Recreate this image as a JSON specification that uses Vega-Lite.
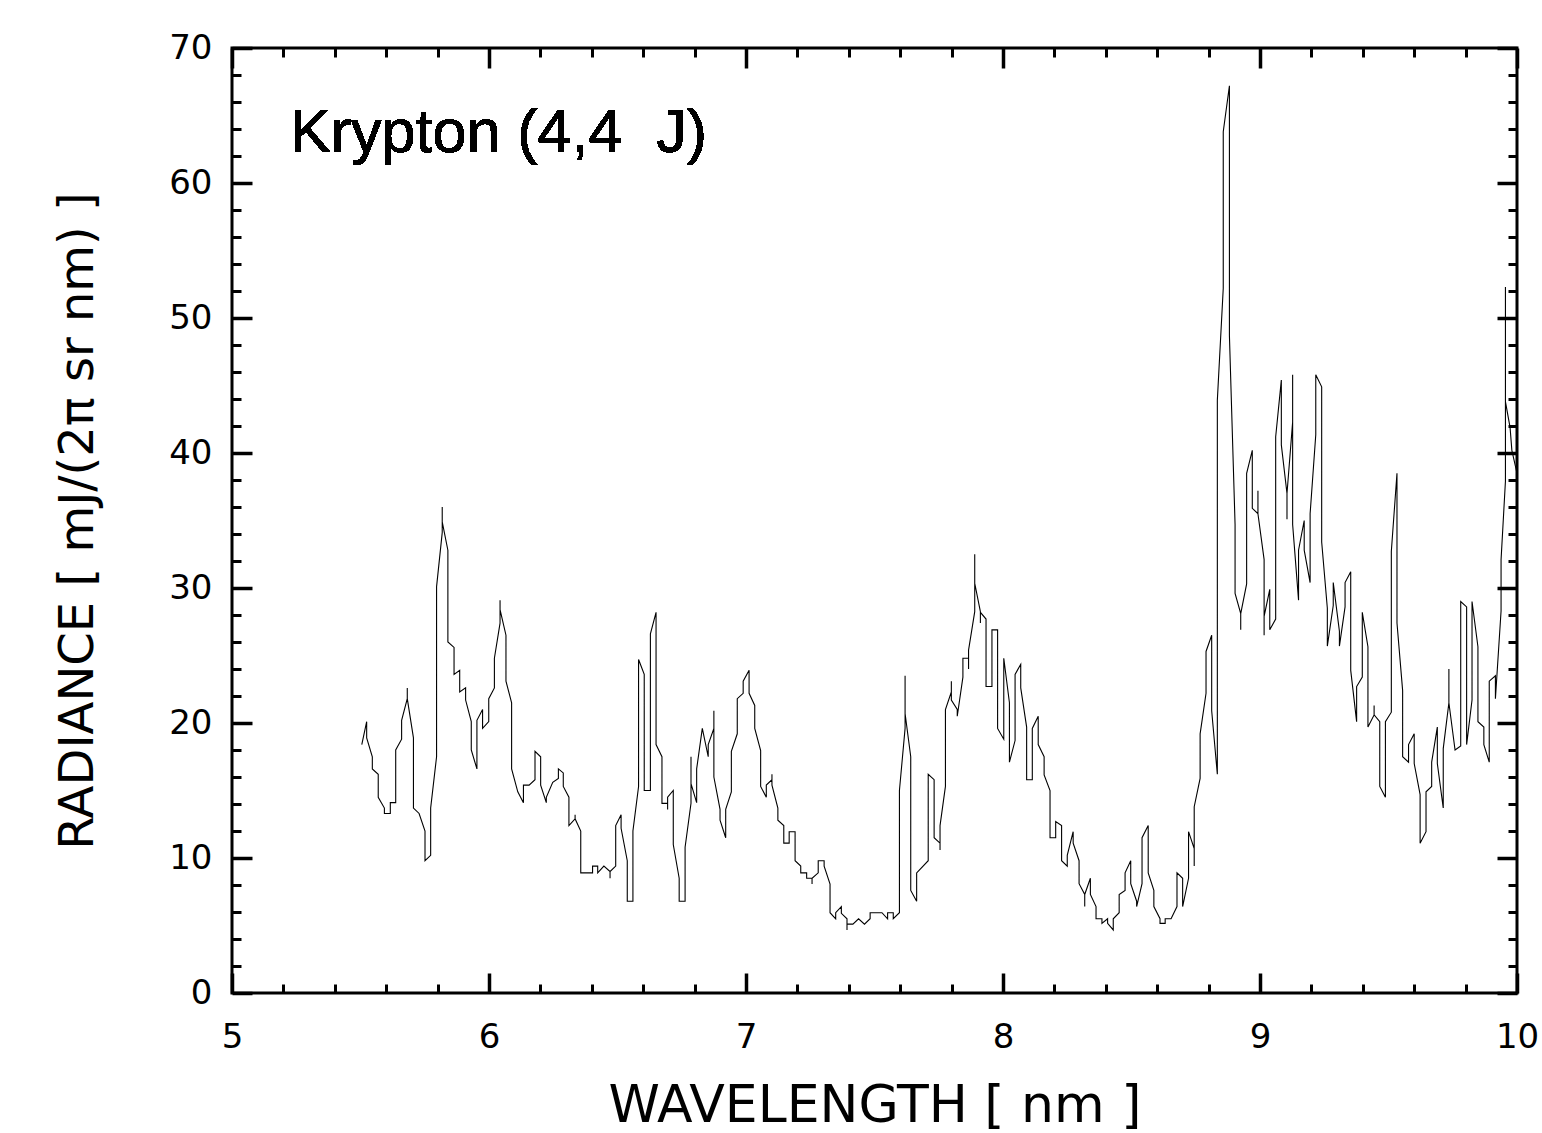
{
"$schema": "https://vega.github.io/schema/vega-lite/v6.json",
"width": 1285, "height": 945,
"autosize": {"type": "none"},
"padding": {"left": 232, "top": 48, "right": 25, "bottom": 140},
"background": "white",
"config": {
  "view": {"stroke": "black", "strokeWidth": 3},
  "font": "Liberation Sans",
  "axis": {"domain": false, "grid": false, "tickColor": "black", "labelColor": "black", "titleColor": "black", "labelFont": "DejaVu Sans", "titleFont": "DejaVu Sans", "titleFontWeight": "normal"}
},
"datasets": {"kr": [
{"i":1,"w":5.505,"r":18.4},{"i":2,"w":5.524,"r":20.1},{"i":3,"w":5.524,"r":18.9},{"i":4,"w":5.546,"r":17.5},{"i":5,"w":5.546,"r":16.6},{"i":6,"w":5.569,"r":16.2},{"i":7,"w":5.569,"r":14.5},{"i":8,"w":5.593,"r":13.7},{"i":9,"w":5.593,"r":13.3},{"i":10,"w":5.616,"r":13.3},
{"i":11,"w":5.616,"r":14.1},{"i":12,"w":5.637,"r":14.1},{"i":13,"w":5.637,"r":18.0},{"i":14,"w":5.660,"r":18.8},{"i":15,"w":5.660,"r":20.2},{"i":16,"w":5.682,"r":21.8},{"i":17,"w":5.682,"r":22.6},{"i":18,"w":5.682,"r":21.8},{"i":19,"w":5.706,"r":18.9},{"i":20,"w":5.706,"r":13.7},
{"i":21,"w":5.728,"r":13.3},{"i":22,"w":5.751,"r":12.0},{"i":23,"w":5.751,"r":9.8},{"i":24,"w":5.773,"r":10.2},{"i":25,"w":5.773,"r":13.7},{"i":26,"w":5.796,"r":17.5},{"i":27,"w":5.796,"r":30.1},{"i":28,"w":5.818,"r":34.1},{"i":29,"w":5.818,"r":36.0},{"i":30,"w":5.818,"r":34.9},
{"i":31,"w":5.840,"r":32.8},{"i":32,"w":5.840,"r":26.0},{"i":33,"w":5.864,"r":25.6},{"i":34,"w":5.864,"r":23.6},{"i":35,"w":5.886,"r":23.9},{"i":36,"w":5.886,"r":22.3},{"i":37,"w":5.909,"r":22.6},{"i":38,"w":5.909,"r":21.7},{"i":39,"w":5.931,"r":20.1},{"i":40,"w":5.931,"r":18.0},
{"i":41,"w":5.953,"r":16.6},{"i":42,"w":5.953,"r":20.2},{"i":43,"w":5.975,"r":21.0},{"i":44,"w":5.975,"r":19.6},{"i":45,"w":5.999,"r":20.1},{"i":46,"w":5.999,"r":21.8},{"i":47,"w":6.021,"r":22.6},{"i":48,"w":6.021,"r":24.8},{"i":49,"w":6.043,"r":27.4},{"i":50,"w":6.043,"r":29.1},
{"i":51,"w":6.043,"r":28.4},{"i":52,"w":6.066,"r":26.5},{"i":53,"w":6.066,"r":23.1},{"i":54,"w":6.088,"r":21.5},{"i":55,"w":6.088,"r":16.6},{"i":56,"w":6.112,"r":14.9},{"i":57,"w":6.134,"r":14.1},{"i":58,"w":6.134,"r":15.4},{"i":59,"w":6.156,"r":15.4},{"i":60,"w":6.179,"r":15.8},
{"i":61,"w":6.179,"r":17.9},{"i":62,"w":6.201,"r":17.5},{"i":63,"w":6.201,"r":15.4},{"i":64,"w":6.223,"r":14.1},{"i":65,"w":6.223,"r":14.5},{"i":66,"w":6.248,"r":15.6},{"i":67,"w":6.270,"r":15.9},{"i":68,"w":6.270,"r":16.6},{"i":69,"w":6.289,"r":16.3},{"i":70,"w":6.289,"r":15.3},
{"i":71,"w":6.311,"r":14.5},{"i":72,"w":6.311,"r":12.4},{"i":73,"w":6.335,"r":12.9},{"i":74,"w":6.335,"r":13.2},{"i":75,"w":6.335,"r":12.9},{"i":76,"w":6.357,"r":12.0},{"i":77,"w":6.357,"r":8.9},{"i":78,"w":6.403,"r":8.9},{"i":79,"w":6.403,"r":9.4},{"i":80,"w":6.423,"r":9.4},
{"i":81,"w":6.423,"r":8.9},{"i":82,"w":6.447,"r":9.4},{"i":83,"w":6.471,"r":9.0},{"i":84,"w":6.471,"r":8.5},{"i":85,"w":6.471,"r":9.0},{"i":86,"w":6.493,"r":9.4},{"i":87,"w":6.493,"r":12.4},{"i":88,"w":6.514,"r":13.2},{"i":89,"w":6.514,"r":12.2},{"i":90,"w":6.538,"r":9.8},
{"i":91,"w":6.538,"r":6.8},{"i":92,"w":6.560,"r":6.8},{"i":93,"w":6.560,"r":12.0},{"i":94,"w":6.582,"r":15.3},{"i":95,"w":6.582,"r":24.7},{"i":96,"w":6.604,"r":23.6},{"i":97,"w":6.604,"r":15.0},{"i":98,"w":6.628,"r":15.0},{"i":99,"w":6.628,"r":26.6},{"i":100,"w":6.650,"r":28.2},
{"i":101,"w":6.650,"r":18.4},{"i":102,"w":6.673,"r":17.5},{"i":103,"w":6.673,"r":14.05},{"i":104,"w":6.695,"r":14.05},{"i":105,"w":6.695,"r":13.6},{"i":106,"w":6.695,"r":14.5},{"i":107,"w":6.717,"r":15.0},{"i":108,"w":6.717,"r":11.0},{"i":109,"w":6.740,"r":8.5},{"i":110,"w":6.740,"r":6.8},
{"i":111,"w":6.763,"r":6.8},{"i":112,"w":6.763,"r":10.8},{"i":113,"w":6.786,"r":14.05},{"i":114,"w":6.786,"r":17.5},{"i":115,"w":6.786,"r":15.5},{"i":116,"w":6.808,"r":14.1},{"i":117,"w":6.808,"r":16.6},{"i":118,"w":6.830,"r":19.6},{"i":119,"w":6.853,"r":17.5},{"i":120,"w":6.853,"r":18.4},
{"i":121,"w":6.875,"r":19.6},{"i":122,"w":6.875,"r":20.9},{"i":123,"w":6.875,"r":16.0},{"i":124,"w":6.899,"r":13.6},{"i":125,"w":6.899,"r":12.8},{"i":126,"w":6.921,"r":11.5},{"i":127,"w":6.921,"r":13.6},{"i":128,"w":6.943,"r":14.9},{"i":129,"w":6.943,"r":17.9},{"i":130,"w":6.966,"r":19.2},
{"i":131,"w":6.966,"r":21.8},{"i":132,"w":6.989,"r":22.2},{"i":133,"w":6.989,"r":23.1},{"i":134,"w":7.012,"r":23.9},{"i":135,"w":7.012,"r":22.2},{"i":136,"w":7.034,"r":21.3},{"i":137,"w":7.034,"r":19.6},{"i":138,"w":7.057,"r":17.95},{"i":139,"w":7.057,"r":15.3},{"i":140,"w":7.079,"r":14.5},
{"i":141,"w":7.079,"r":15.4},{"i":142,"w":7.101,"r":15.8},{"i":143,"w":7.101,"r":16.2},{"i":144,"w":7.101,"r":15.4},{"i":145,"w":7.124,"r":13.7},{"i":146,"w":7.124,"r":12.8},{"i":147,"w":7.147,"r":12.4},{"i":148,"w":7.147,"r":11.1},{"i":149,"w":7.168,"r":11.1},{"i":150,"w":7.168,"r":11.95},
{"i":151,"w":7.191,"r":11.95},{"i":152,"w":7.191,"r":9.8},{"i":153,"w":7.213,"r":9.4},{"i":154,"w":7.213,"r":8.9},{"i":155,"w":7.236,"r":8.9},{"i":156,"w":7.236,"r":8.5},{"i":157,"w":7.257,"r":8.5},{"i":158,"w":7.257,"r":8.07},{"i":159,"w":7.257,"r":8.5},{"i":160,"w":7.281,"r":8.9},
{"i":161,"w":7.281,"r":9.8},{"i":162,"w":7.304,"r":9.8},{"i":163,"w":7.304,"r":9.4},{"i":164,"w":7.327,"r":8.07},{"i":165,"w":7.327,"r":5.95},{"i":166,"w":7.349,"r":5.5},{"i":167,"w":7.349,"r":5.95},{"i":168,"w":7.371,"r":6.4},{"i":169,"w":7.371,"r":5.9},{"i":170,"w":7.393,"r":5.5},
{"i":171,"w":7.393,"r":4.67},{"i":172,"w":7.393,"r":5.1},{"i":173,"w":7.416,"r":5.1},{"i":174,"w":7.438,"r":5.5},{"i":175,"w":7.461,"r":5.1},{"i":176,"w":7.483,"r":5.5},{"i":177,"w":7.483,"r":5.95},{"i":178,"w":7.529,"r":5.95},{"i":179,"w":7.551,"r":5.5},{"i":180,"w":7.551,"r":5.95},
{"i":181,"w":7.573,"r":5.95},{"i":182,"w":7.573,"r":5.5},{"i":183,"w":7.597,"r":5.95},{"i":184,"w":7.597,"r":15.0},{"i":185,"w":7.619,"r":19.6},{"i":186,"w":7.619,"r":23.5},{"i":187,"w":7.619,"r":20.7},{"i":188,"w":7.641,"r":17.5},{"i":189,"w":7.641,"r":7.6},{"i":190,"w":7.664,"r":6.8},
{"i":191,"w":7.664,"r":8.9},{"i":192,"w":7.709,"r":9.8},{"i":193,"w":7.709,"r":16.2},{"i":194,"w":7.732,"r":15.8},{"i":195,"w":7.732,"r":11.5},{"i":196,"w":7.755,"r":11.1},{"i":197,"w":7.755,"r":10.6},{"i":198,"w":7.755,"r":12.4},{"i":199,"w":7.776,"r":15.3},{"i":200,"w":7.776,"r":21.0},
{"i":201,"w":7.799,"r":22.3},{"i":202,"w":7.799,"r":23.1},{"i":203,"w":7.799,"r":21.7},{"i":204,"w":7.822,"r":21.0},{"i":205,"w":7.822,"r":20.5},{"i":206,"w":7.844,"r":23.4},{"i":207,"w":7.844,"r":24.8},{"i":208,"w":7.866,"r":24.8},{"i":209,"w":7.866,"r":24.0},{"i":210,"w":7.866,"r":25.4},
{"i":211,"w":7.890,"r":28.25},{"i":212,"w":7.890,"r":32.5},{"i":213,"w":7.890,"r":30.35},{"i":214,"w":7.912,"r":28.25},{"i":215,"w":7.912,"r":27.4},{"i":216,"w":7.912,"r":28.2},{"i":217,"w":7.934,"r":27.7},{"i":218,"w":7.934,"r":22.7},{"i":219,"w":7.957,"r":22.7},{"i":220,"w":7.957,"r":26.9},
{"i":221,"w":7.979,"r":26.9},{"i":222,"w":7.979,"r":19.6},{"i":223,"w":8.003,"r":18.8},{"i":224,"w":8.003,"r":24.8},{"i":225,"w":8.025,"r":21.5},{"i":226,"w":8.025,"r":17.1},{"i":227,"w":8.047,"r":18.7},{"i":228,"w":8.047,"r":23.6},{"i":229,"w":8.069,"r":24.35},{"i":230,"w":8.069,"r":22.6},
{"i":231,"w":8.092,"r":19.7},{"i":232,"w":8.092,"r":15.8},{"i":233,"w":8.114,"r":15.8},{"i":234,"w":8.114,"r":19.6},{"i":235,"w":8.137,"r":20.5},{"i":236,"w":8.137,"r":18.4},{"i":237,"w":8.160,"r":17.5},{"i":238,"w":8.160,"r":16.15},{"i":239,"w":8.183,"r":15.0},{"i":240,"w":8.183,"r":11.5},
{"i":241,"w":8.205,"r":11.5},{"i":242,"w":8.205,"r":12.7},{"i":243,"w":8.228,"r":12.4},{"i":244,"w":8.228,"r":9.8},{"i":245,"w":8.250,"r":9.4},{"i":246,"w":8.250,"r":10.2},{"i":247,"w":8.273,"r":11.95},{"i":248,"w":8.273,"r":11.1},{"i":249,"w":8.296,"r":9.8},{"i":250,"w":8.296,"r":8.1},
{"i":251,"w":8.318,"r":7.3},{"i":252,"w":8.318,"r":6.4},{"i":253,"w":8.318,"r":7.3},{"i":254,"w":8.340,"r":8.5},{"i":255,"w":8.340,"r":7.3},{"i":256,"w":8.362,"r":6.4},{"i":257,"w":8.362,"r":5.5},{"i":258,"w":8.385,"r":5.5},{"i":259,"w":8.385,"r":5.16},{"i":260,"w":8.407,"r":5.5},
{"i":261,"w":8.407,"r":5.16},{"i":262,"w":8.429,"r":4.67},{"i":263,"w":8.429,"r":5.5},{"i":264,"w":8.452,"r":5.95},{"i":265,"w":8.452,"r":7.3},{"i":266,"w":8.475,"r":7.6},{"i":267,"w":8.475,"r":8.9},{"i":268,"w":8.497,"r":9.8},{"i":269,"w":8.497,"r":8.1},{"i":270,"w":8.520,"r":6.8},
{"i":271,"w":8.520,"r":6.4},{"i":272,"w":8.541,"r":8.1},{"i":273,"w":8.541,"r":11.5},{"i":274,"w":8.565,"r":12.4},{"i":275,"w":8.565,"r":8.9},{"i":276,"w":8.587,"r":7.6},{"i":277,"w":8.587,"r":6.4},{"i":278,"w":8.611,"r":5.5},{"i":279,"w":8.611,"r":5.16},{"i":280,"w":8.631,"r":5.16},
{"i":281,"w":8.631,"r":5.5},{"i":282,"w":8.654,"r":5.5},{"i":283,"w":8.677,"r":6.4},{"i":284,"w":8.677,"r":8.9},{"i":285,"w":8.699,"r":8.5},{"i":286,"w":8.699,"r":6.4},{"i":287,"w":8.722,"r":8.5},{"i":288,"w":8.722,"r":11.95},{"i":289,"w":8.744,"r":10.7},{"i":290,"w":8.744,"r":9.4},
{"i":291,"w":8.744,"r":13.8},{"i":292,"w":8.767,"r":15.9},{"i":293,"w":8.767,"r":19.2},{"i":294,"w":8.790,"r":22.2},{"i":295,"w":8.790,"r":25.3},{"i":296,"w":8.812,"r":26.5},{"i":297,"w":8.812,"r":20.9},{"i":298,"w":8.834,"r":16.2},{"i":299,"w":8.834,"r":43.9},{"i":300,"w":8.857,"r":52.2},
{"i":301,"w":8.857,"r":63.8},{"i":302,"w":8.881,"r":67.2},{"i":303,"w":8.881,"r":48.7},{"i":304,"w":8.903,"r":34.7},{"i":305,"w":8.903,"r":29.6},{"i":306,"w":8.925,"r":28.1},{"i":307,"w":8.925,"r":26.9},{"i":308,"w":8.925,"r":28.1},{"i":309,"w":8.948,"r":30.3},{"i":310,"w":8.948,"r":38.5},
{"i":311,"w":8.970,"r":40.2},{"i":312,"w":8.970,"r":35.9},{"i":313,"w":8.992,"r":35.5},{"i":314,"w":8.992,"r":37.2},{"i":315,"w":8.992,"r":35.5},{"i":316,"w":9.016,"r":32.1},{"i":317,"w":9.016,"r":26.5},{"i":318,"w":9.016,"r":27.9},{"i":319,"w":9.038,"r":29.9},{"i":320,"w":9.038,"r":26.9},
{"i":321,"w":9.061,"r":27.7},{"i":322,"w":9.061,"r":41.2},{"i":323,"w":9.083,"r":45.4},{"i":324,"w":9.083,"r":40.6},{"i":325,"w":9.105,"r":37.0},{"i":326,"w":9.105,"r":35.1},{"i":327,"w":9.105,"r":37.0},{"i":328,"w":9.127,"r":42.3},{"i":329,"w":9.127,"r":45.8},{"i":330,"w":9.127,"r":34.7},
{"i":331,"w":9.150,"r":29.1},{"i":332,"w":9.150,"r":32.8},{"i":333,"w":9.172,"r":35.0},{"i":334,"w":9.172,"r":32.8},{"i":335,"w":9.195,"r":30.4},{"i":336,"w":9.195,"r":35.5},{"i":337,"w":9.217,"r":41.35},{"i":338,"w":9.217,"r":45.8},{"i":339,"w":9.240,"r":44.9},{"i":340,"w":9.240,"r":33.4},
{"i":341,"w":9.262,"r":28.5},{"i":342,"w":9.262,"r":25.7},{"i":343,"w":9.285,"r":28.7},{"i":344,"w":9.285,"r":30.4},{"i":345,"w":9.309,"r":26.8},{"i":346,"w":9.309,"r":25.7},{"i":347,"w":9.331,"r":28.6},{"i":348,"w":9.331,"r":30.4},{"i":349,"w":9.353,"r":31.2},{"i":350,"w":9.353,"r":23.9},
{"i":351,"w":9.376,"r":20.1},{"i":352,"w":9.376,"r":22.7},{"i":353,"w":9.398,"r":23.4},{"i":354,"w":9.398,"r":28.2},{"i":355,"w":9.420,"r":25.65},{"i":356,"w":9.420,"r":19.7},{"i":357,"w":9.444,"r":20.6},{"i":358,"w":9.444,"r":21.3},{"i":359,"w":9.444,"r":20.6},{"i":360,"w":9.466,"r":20.1},
{"i":361,"w":9.466,"r":15.3},{"i":362,"w":9.488,"r":14.5},{"i":363,"w":9.488,"r":20.1},{"i":364,"w":9.511,"r":20.8},{"i":365,"w":9.511,"r":32.7},{"i":366,"w":9.533,"r":38.5},{"i":367,"w":9.533,"r":27.4},{"i":368,"w":9.555,"r":22.4},{"i":369,"w":9.555,"r":17.5},{"i":370,"w":9.578,"r":17.1},
{"i":371,"w":9.578,"r":18.4},{"i":372,"w":9.600,"r":19.2},{"i":373,"w":9.600,"r":17.0},{"i":374,"w":9.623,"r":14.7},{"i":375,"w":9.623,"r":11.1},{"i":376,"w":9.646,"r":11.95},{"i":377,"w":9.646,"r":14.9},{"i":378,"w":9.668,"r":15.3},{"i":379,"w":9.668,"r":17.1},{"i":380,"w":9.690,"r":19.7},
{"i":381,"w":9.690,"r":17.0},{"i":382,"w":9.713,"r":13.7},{"i":383,"w":9.713,"r":18.1},{"i":384,"w":9.735,"r":21.5},{"i":385,"w":9.735,"r":24.0},{"i":386,"w":9.735,"r":21.5},{"i":387,"w":9.759,"r":18.0},{"i":388,"w":9.781,"r":18.3},{"i":389,"w":9.781,"r":29.0},{"i":390,"w":9.804,"r":28.6},
{"i":391,"w":9.804,"r":18.4},{"i":392,"w":9.825,"r":21.7},{"i":393,"w":9.825,"r":29.0},{"i":394,"w":9.848,"r":25.65},{"i":395,"w":9.848,"r":20.1},{"i":396,"w":9.871,"r":19.7},{"i":397,"w":9.871,"r":18.4},{"i":398,"w":9.892,"r":17.1},{"i":399,"w":9.892,"r":23.1},{"i":400,"w":9.916,"r":23.5},
{"i":401,"w":9.916,"r":21.8},{"i":402,"w":9.938,"r":28.3},{"i":403,"w":9.938,"r":32.1},{"i":404,"w":9.955,"r":37.9},{"i":405,"w":9.955,"r":52.3},{"i":406,"w":9.955,"r":43.8},{"i":407,"w":9.973,"r":41.9},{"i":408,"w":9.980,"r":40.2},{"i":409,"w":10.0,"r":38.5}
]},
"data": {"name": "kr"},
"layer": [
  {
    "mark": {"type": "line", "color": "black", "strokeWidth": 1.1, "clip": true},
    "encoding": {
      "x": {"field": "w", "type": "quantitative", "scale": {"domain": [5, 10], "nice": false, "zero": false},
        "axis": {"orient": "bottom", "values": [5, 6, 7, 8, 9, 10], "format": "d", "tickSize": -20, "tickWidth": 3.5, "labelFontSize": 34, "labelPadding": 47, "labelFlush": false, "labelBaseline": "top",
          "title": "WAVELENGTH [ nm ]", "titleFontSize": 52, "titlePadding": 26}},
      "y": {"field": "r", "type": "quantitative", "scale": {"domain": [0, 70], "nice": false, "zero": true},
        "axis": {"orient": "left", "values": [0, 10, 20, 30, 40, 50, 60, 70], "tickSize": -20, "tickWidth": 3.5, "labelFontSize": 34, "labelPadding": 40, "labelFlush": false,
          "title": "RADIANCE [ mJ/(2π sr nm) ]", "titleFontSize": 48, "titlePadding": 66}},
      "order": {"field": "i", "type": "quantitative"}
    }
  },
  {
    "mark": {"type": "line", "opacity": 0},
    "encoding": {
      "x": {"field": "w", "type": "quantitative", "axis": {"orient": "top", "values": [5, 6, 7, 8, 9, 10], "tickSize": -20, "tickWidth": 3.5, "labels": false, "title": null}},
      "y": {"field": "r", "type": "quantitative", "axis": {"orient": "right", "values": [0, 10, 20, 30, 40, 50, 60, 70], "tickSize": -20, "tickWidth": 3.5, "labels": false, "title": null}}
    }
  },
  {
    "mark": {"type": "line", "opacity": 0},
    "encoding": {
      "x": {"field": "w", "type": "quantitative", "axis": {"orient": "bottom", "values": [5.2,5.4,5.6,5.8,6.2,6.4,6.6,6.8,7.2,7.4,7.6,7.8,8.2,8.4,8.6,8.8,9.2,9.4,9.6,9.8], "tickSize": -9, "tickWidth": 3, "labels": false, "title": null}},
      "y": {"field": "r", "type": "quantitative", "axis": {"orient": "left", "values": [2,4,6,8,12,14,16,18,22,24,26,28,32,34,36,38,42,44,46,48,52,54,56,58,62,64,66,68], "tickSize": -9, "tickWidth": 3, "labels": false, "title": null}}
    }
  },
  {
    "mark": {"type": "line", "opacity": 0},
    "encoding": {
      "x": {"field": "w", "type": "quantitative", "axis": {"orient": "top", "values": [5.2,5.4,5.6,5.8,6.2,6.4,6.6,6.8,7.2,7.4,7.6,7.8,8.2,8.4,8.6,8.8,9.2,9.4,9.6,9.8], "tickSize": -9, "tickWidth": 3, "labels": false, "title": null}},
      "y": {"field": "r", "type": "quantitative", "axis": {"orient": "right", "values": [2,4,6,8,12,14,16,18,22,24,26,28,32,34,36,38,42,44,46,48,52,54,56,58,62,64,66,68], "tickSize": -9, "tickWidth": 3, "labels": false, "title": null}}
    }
  },
  {
    "mark": {"type": "text", "text": "Krypton (4,4\u00a0 J)", "align": "left", "baseline": "alphabetic", "fontSize": 61, "font": "Liberation Sans", "color": "black"},
    "encoding": {
      "x": {"datum": 5.226, "type": "quantitative", "axis": null},
      "y": {"datum": 62.3, "type": "quantitative", "axis": null}
    }
  }
],
"resolve": {"axis": {"x": "independent", "y": "independent"}}
}
